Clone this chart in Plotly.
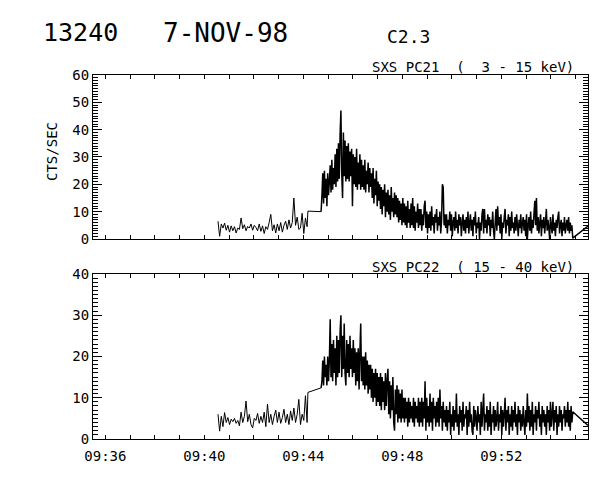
import plotly.graph_objects as go
from datetime import datetime, timedelta

DAY = "1998-11-07"
X_RANGE = ["1998-11-07 09:35:30", "1998-11-07 09:55:30"]

# ---- sampling of the record (start time, cadence in seconds) ----
PRE_START = "09:40:33"
PRE_STEP_S = 4
GAP_TIMES = ["09:44:11", "09:44:43"]
FLARE_START = "09:44:45"
FLARE_STEP_S = 2
TAIL_TIME = "09:55:30"

# ---- SXS PC21 (3 - 15 keV), counts/sec ----
pc21_pre = [6.5, 1.0, 5.5, 4.0, 5.8, 3.2, 5.0, 2.5, 4.8, 3.0,
            4.5, 2.2, 4.0, 3.5, 7.7, 3.8, 5.2, 3.0, 4.6, 4.0,
            5.5, 3.2, 5.0, 4.2, 3.0, 5.5, 2.8, 4.8, 2.0, 4.5,
            3.5, 6.0, 9.0, 3.0, 5.2, 2.2, 5.5, 3.0, 6.0, 2.5,
            5.0, 6.5, 3.5, 7.0, 4.0, 6.0, 15.0, 5.0, 8.0, 3.5,
            4.0, 9.4, 2.0, 7.7, 4.5]
pc21_gap = [10.2, 10.0]
pc21_flare = [16, 24, 13, 25, 15, 22, 12, 24, 16, 21,
              27, 17, 29, 18, 26, 20, 31, 19, 33, 21,
              35, 22, 38, 47, 24, 15, 39, 23, 36, 21,
              34, 22, 35, 21, 32, 23, 33, 12, 31, 20,
              30, 19, 33, 18, 28, 20, 31, 18, 29, 19,
              27, 18, 29, 17, 25, 20, 28, 17, 26, 19,
              24, 15, 26, 13, 22, 16, 25, 12, 21, 14,
              20, 11, 19, 9, 18, 12, 20, 8, 17, 10,
              18, 9, 16, 7, 19, 10, 15, 8, 17, 9,
              16, 8, 15, 6, 14, 7, 13, 5, 15, 6,
              13, 5, 12, 4, 14, 6, 11, 4, 13, 5,
              15, 4, 12, 3, 10, 6, 13, 4, 11, 5,
              11, 3, 9, 5, 12, 14, 4, 10, 2, 9,
              4, 10, 3, 12, 5, 8, 2, 9, 6, 11,
              3, 8, 5, 10, 2, 7, 20, 19, 5, 9,
              4, 9, 2, 7, 5, 10, 3, 9, 1, 6,
              8, 3, 10, 4, 7, 2, 9, 5, 8, 1,
              6, 9, 3, 7, 2, 8, 4, 10, 2, 6,
              9, 3, 7, 1, 8, 5, 10, 2, 6, 4,
              8, 0, 6, 3, 9, 11, 2, 11, 4, 7,
              2, 9, 5, 8, 1, 7, 4, 10, 3, 0,
              6, 11, 3, 12, 5, 8, 2, 9, 0, 6,
              4, 8, 11, 2, 7, 5, 9, 1, 8, 3,
              10, 4, 6, 2, 8, 3, 9, 5, 1, 7,
              4, 9, 2, 6, 8, 3, 7, 1, 9, 0,
              5, 8, 3, 10, 2, 7, 4, 9, 14, 5,
              15, 3, 8, 2, 6, 9, 1, 7, 4, 8,
              2, 6, 11, 3, 7, 4, 0, 8, 5, 2,
              9, 3, 6, 1, 7, 4, 8, 10, 2, 5,
              7, 1, 6, 3, 8, 2, 5, 7, 3, 8,
              2, 6, 3, 5, 0.3]
pc21_tail = 4.7

# ---- SXS PC22 (15 - 40 keV), counts/sec ----
pc22_pre = [6.0, 1.9, 5.5, 3.0, 6.4, 4.0, 5.2, 3.5, 4.8, 4.2,
            5.0, 3.8, 4.5, 3.2, 6.5, 4.0, 5.5, 9.2, 4.2, 6.0,
            3.5, 2.7, 5.0, 4.5, 6.2, 3.8, 5.5, 4.0, 6.5, 3.0,
            8.5, 4.0, 6.0, 3.5, 5.5, 7.0, 4.0, 6.5, 3.8, 5.2,
            7.2, 4.0, 6.0, 3.5, 6.8, 4.5, 7.5, 4.0, 6.0, 9.6,
            3.5, 6.0, 4.5, 10.5, 4.0]
pc22_gap = [11.3, 12.4]
pc22_flare = [14, 19, 13, 20, 15, 18, 13, 20, 14, 19,
              29, 15, 23, 14, 24, 16, 22, 13, 25, 15,
              24, 16, 26, 30, 15, 25, 17, 28, 16, 13,
              24, 16, 23, 15, 25, 17, 22, 15, 24, 16,
              22, 13, 21, 14, 22, 12, 21, 28, 14, 20,
              13, 20, 12, 21, 13, 19, 11, 18, 12, 18,
              10, 17, 9, 16, 10, 17, 8, 16, 9, 15,
              8, 16, 7, 15, 9, 14, 7, 16, 8, 14,
              17, 6, 14, 5, 13, 7, 15, 4, 2, 12,
              6, 13, 4, 12, 5, 11, 4, 12, 5, 10,
              4, 10, 5, 9, 3, 10, 4, 9, 5, 8,
              4, 10, 3, 9, 5, 8, 4, 10, 3, 9,
              4, 10, 3, 9, 5, 14, 2, 10, 4, 8,
              3, 11, 4, 9, 2, 10, 5, 8, 3, 9,
              4, 10, 3, 12, 5, 8, 2, 9, 4, 7,
              3, 8, 2, 7, 4, 9, 1, 6, 3, 8,
              2, 7, 4, 11, 3, 6, 1, 8, 4, 7,
              2, 9, 3, 6, 5, 8, 1, 7, 3, 9,
              4, 6, 2, 1, 8, 3, 7, 5, 2, 8,
              4, 6, 1, 9, 3, 7, 11, 2, 6, 4,
              8, 2, 7, 3, 9, 1, 6, 4, 8, 2,
              7, 3, 5, 9, 2, 6, 4, 8, 1, 7,
              3, 6, 10, 2, 7, 4, 8, 1, 6, 3,
              8, 2, 7, 4, 9, 3, 6, 1, 8, 4,
              7, 2, 6, 3, 8, 4, 1, 7, 3, 11,
              4, 8, 2, 7, 3, 9, 1, 6, 4, 8,
              2, 7, 5, 9, 3, 6, 1, 8, 4, 7,
              3, 6, 1, 8, 4, 7, 2, 9, 3, 6,
              9, 2, 7, 4, 8, 1, 6, 3, 8, 4,
              7, 2, 6, 5, 8, 3, 7, 4, 9, 3,
              7, 2, 8, 4, 6.6]
pc22_tail = 3.3

X_TICK_LABELS = ["09:36", "09:40", "09:44", "09:48", "09:52"]


def ts(hms):
    return datetime.strptime(DAY + " " + hms, "%Y-%m-%d %H:%M:%S")


def sample_times(start, step, n):
    t0 = ts(start)
    return [t0 + timedelta(seconds=step * k) for k in range(n)]


def quiet_part(pre, gap):
    t = sample_times(PRE_START, PRE_STEP_S, len(pre)) + [ts(g) for g in GAP_TIMES]
    return t, list(pre) + list(gap)


def flare_part(gap, flare, tail):
    # starts from the last quiet sample so the record stays continuous
    t = ([ts(GAP_TIMES[-1])]
         + sample_times(FLARE_START, FLARE_STEP_S, len(flare))
         + [ts(TAIL_TIME)])
    return t, [gap[-1]] + list(flare) + [tail]


fig = go.Figure()
series = [
    (pc21_pre, pc21_gap, pc21_flare, pc21_tail, "x2", "y2"),
    (pc22_pre, pc22_gap, pc22_flare, pc22_tail, "x", "y"),
]
for pre, gap, flare, tail, xa, ya in series:
    tq, vq = quiet_part(pre, gap)
    tf, vf = flare_part(gap, flare, tail)
    fig.add_trace(go.Scatter(x=tq, y=vq, mode="lines",
                             line=dict(color="black", width=1, simplify=False),
                             xaxis=xa, yaxis=ya, showlegend=False))
    fig.add_trace(go.Scatter(x=tf, y=vf, mode="lines",
                             line=dict(color="black", width=1.5, simplify=False),
                             xaxis=xa, yaxis=ya, showlegend=False))

FONT = "DejaVu Sans Mono"
tickvals = [ts(s + ":00") for s in X_TICK_LABELS]

xcommon = dict(type="date", range=X_RANGE, showgrid=False, zeroline=False,
               showline=True, linecolor="black", linewidth=1,
               mirror="allticks", ticks="inside", ticklen=4, tickcolor="black",
               tickvals=tickvals, ticktext=X_TICK_LABELS, automargin=False,
               minor=dict(dtick=60000, tick0=DAY + " 09:36:00", ticks="inside",
                          ticklen=4, tickcolor="black", showgrid=False))
ycommon = dict(showgrid=False, zeroline=False, showline=True, linecolor="black",
               linewidth=1, mirror="allticks", ticks="inside", ticklen=9,
               tickcolor="black", dtick=10, tick0=0, automargin=False,
               minor=dict(dtick=1, ticks="inside", ticklen=5,
                          tickcolor="black", showgrid=False))

# the page puts the figure 8 px in from the window corner
fig.update_layout(
    width=600, height=480,
    margin=dict(l=85, r=20, t=67, b=49, autoexpand=False),
    paper_bgcolor="white", plot_bgcolor="white",
    font=dict(family=FONT, size=14, color="black"),
    xaxis=dict(**xcommon, anchor="y", ticklabelstandoff=4),
    yaxis=dict(**ycommon, domain=[0, 0.4533], range=[0, 40]),
    xaxis2=dict(**xcommon, anchor="y2", matches="x", showticklabels=False),
    yaxis2=dict(**ycommon, domain=[0.5495, 1], range=[0, 60]),
)


def px(x):
    return (x - 93) / 495


def py(y):
    return (439 - y) / 364


ann = [
    dict(text="13240", x=px(80), y=py(33), size=25),
    dict(text="7-NOV-98", x=px(225), y=py(33), size=26),
    dict(text="C2.3", x=px(408), y=py(37), size=18),
]
for a in ann:
    fig.add_annotation(text=a["text"], x=a["x"], y=a["y"], xref="paper",
                       yref="paper", xanchor="center", yanchor="middle",
                       showarrow=False, font=dict(family=FONT, size=a["size"]))

fig.add_annotation(text="SXS PC21  (  3 - 15 keV)", x=px(576), y=py(67),
                   xref="paper", yref="paper", xanchor="right", yanchor="middle",
                   showarrow=False, font=dict(family=FONT, size=14))
fig.add_annotation(text="SXS PC22  ( 15 - 40 keV)", x=px(576), y=py(267),
                   xref="paper", yref="paper", xanchor="right", yanchor="middle",
                   showarrow=False, font=dict(family=FONT, size=14))
fig.add_annotation(text="CTS/SEC", x=px(52), y=py(152), textangle=-90,
                   xref="paper", yref="paper", xanchor="center", yanchor="middle",
                   showarrow=False, font=dict(family=FONT, size=14))

fig.write_html("out.html")
